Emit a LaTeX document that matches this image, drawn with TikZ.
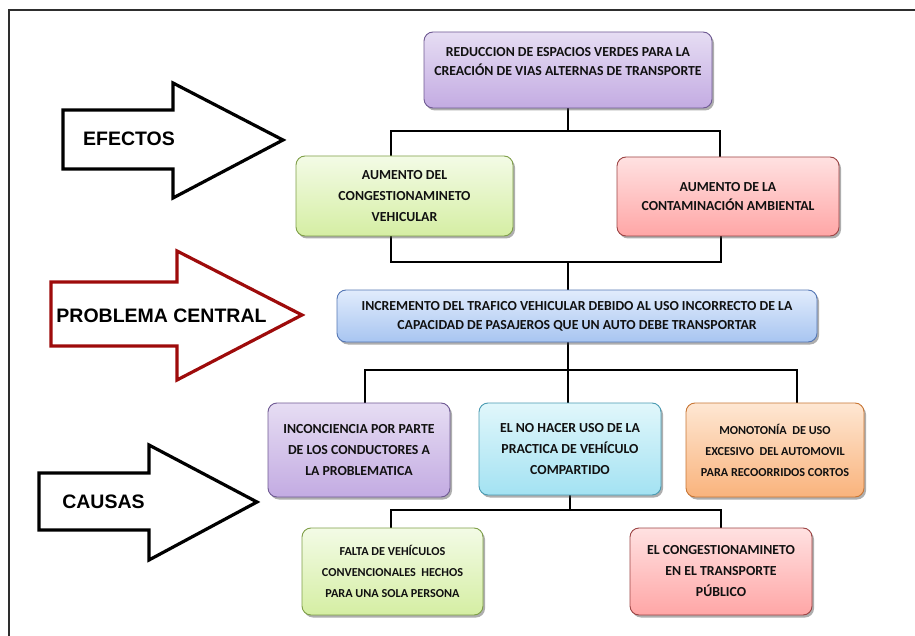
\documentclass[tikz,border=0pt]{standalone}
\usepackage{fontspec}
\setmainfont{Carlito}
\newfontfamily\arrowfont{Liberation Sans}
\usetikzlibrary{shadows,backgrounds}
\definecolor{txtc}{HTML}{111111}
\definecolor{purT}{HTML}{E6DDF3}\definecolor{purB}{HTML}{C3ABE2}\definecolor{purD}{HTML}{6F5A93}
\definecolor{grnT}{HTML}{F3FBE6}\definecolor{grnB}{HTML}{D5EEA3}\definecolor{grnD}{HTML}{7F9F48}
\definecolor{redT}{HTML}{FFE1E1}\definecolor{redB}{HTML}{FFA6A6}\definecolor{redD}{HTML}{9C4444}
\definecolor{bluT}{HTML}{E1ECFC}\definecolor{bluB}{HTML}{A8C5F1}\definecolor{bluD}{HTML}{5577B5}
\definecolor{cyaT}{HTML}{E1F7FB}\definecolor{cyaB}{HTML}{A3E2F2}\definecolor{cyaD}{HTML}{4A9BB2}
\definecolor{oraT}{HTML}{FEE7D3}\definecolor{oraB}{HTML}{F9B37C}\definecolor{oraD}{HTML}{C87634}
\definecolor{darkred}{HTML}{9E0B0B}
\definecolor{framec}{HTML}{2E2E2E}
\tikzset{
  box/.style={draw, line width=0.9pt, rounded corners=9pt,
    drop shadow={shadow xshift=2pt, shadow yshift=-2.5pt, opacity=0.45, fill=black!70},
    text=txtc, align=center, inner sep=0pt,
    font=\bfseries\fontsize{13.8}{21}\selectfont},
  boxtext/.style={text=txtc, align=center, inner sep=0pt, font=\bfseries\fontsize{13.8}{18}\selectfont},
  small/.style={font=\bfseries\fontsize{12.2}{21}\selectfont},
  two/.style={font=\bfseries\fontsize{13.8}{19}\selectfont},
  purbox/.style={box, top color=purT, bottom color=purB, draw=purD},
  grnbox/.style={box, top color=grnT, bottom color=grnB, draw=grnD},
  redbox/.style={box, top color=redT, bottom color=redB, draw=redD},
  blubox/.style={box, top color=bluT, bottom color=bluB, draw=bluD},
  cyabox/.style={box, top color=cyaT, bottom color=cyaB, draw=cyaD},
  orabox/.style={box, top color=oraT, bottom color=oraB, draw=oraD},
  conn/.style={line width=2.8pt, line join=miter, black},
  bigarrow/.style={line width=3.2pt, line join=miter, fill=white},
  arrowlabel/.style={text=black, inner sep=0pt, font=\arrowfont\bfseries\fontsize{19.5}{22}\selectfont}
}
\begin{document}
\begin{tikzpicture}[x=1pt,y=-1pt]
\useasboundingbox (0,0) rectangle (915,636);
% frame
\draw[framec, line width=2pt] (9,636) -- (9,10) -- (915,10);

% big arrows
\draw[bigarrow, draw=black] (63,110) -- (173,110) -- (173,83) -- (283,140) -- (173,198) -- (173,169) -- (63,169) -- cycle;
\node[arrowlabel] (efectos) at (129,139) {EFECTOS};
\draw[bigarrow, draw=darkred] (51,282) -- (177,282) -- (177,251) -- (302,315) -- (177,380) -- (177,346) -- (51,346) -- cycle;
\node[arrowlabel] (problema) at (161.5,316) {PROBLEMA CENTRAL};
\draw[bigarrow, draw=black] (39,473) -- (149,473) -- (149,445) -- (257,502) -- (149,560) -- (149,530) -- (39,530) -- cycle;
\node[arrowlabel] (causas) at (103.5,502) {CAUSAS};

% boxes
\node[purbox, minimum width=288pt, minimum height=76pt] (top) at (568,70) {};
\node[boxtext, two] (toptext) at (568,62) {REDUCCION DE ESPACIOS VERDES PARA LA\\CREACIÓN DE VIAS ALTERNAS DE TRANSPORTE};
\node[grnbox, minimum width=217pt, minimum height=80pt] (g2) at (404.5,196) {AUMENTO DEL\\CONGESTIONAMINETO\\VEHICULAR};
\node[redbox, two, minimum width=222pt, minimum height=79pt] (r2) at (728,196.5) {AUMENTO DE LA\\CONTAMINACIÓN AMBIENTAL};
\node[blubox, two, minimum width=480pt, minimum height=52pt] (blue) at (577,316) {INCREMENTO DEL TRAFICO VEHICULAR DEBIDO AL USO INCORRECTO DE LA\\CAPACIDAD DE PASAJEROS QUE UN AUTO DEBE TRANSPORTAR};
\node[purbox, minimum width=182pt, minimum height=94pt] (p3) at (359,450) {INCONCIENCIA POR PARTE\\DE LOS CONDUCTORES A\\LA PROBLEMATICA};
\node[cyabox, minimum width=182pt, minimum height=92pt] (c3) at (570,449) {EL NO HACER USO DE LA\\PRACTICA DE VEHÍCULO\\COMPARTIDO};
\node[orabox, small, minimum width=178pt, minimum height=94pt] (o3) at (775,450) {MONOTONÍA\ \ DE USO\\EXCESIVO\ \ DEL AUTOMOVIL\\PARA RECOORRIDOS CORTOS};
\node[grnbox, small, minimum width=181pt, minimum height=87pt] (g4) at (392.5,571.5) {FALTA DE VEHÍCULOS\\CONVENCIONALES\ \ HECHOS\\PARA UNA SOLA PERSONA};
\node[redbox, minimum width=182pt, minimum height=87pt] (r4) at (721,571.5) {EL CONGESTIONAMINETO\\EN EL TRANSPORTE\\PÚBLICO};

% connectors
\coordinate (b1l) at (391,131); \coordinate (b1r) at (720,131);
\coordinate (b2l) at (391,262); \coordinate (b2r) at (721,262); \coordinate (b2c) at (568,262);
\coordinate (b3l) at (365,370); \coordinate (b3r) at (797,370); \coordinate (b3c) at (568,370);
\coordinate (b4l) at (391,510); \coordinate (b4r) at (721,510); \coordinate (b4c) at (570,510);
\begin{scope}[on background layer]
\fill[white] (0,0) rectangle (915,636);
\draw[conn] (top.south) -- (top.south |- b1l);
\draw[conn] (b1l |- g2.north) -- (b1l) -- (b1r) -- (b1r |- r2.north);
\draw[conn] (g2.south -| b2l) -- (b2l) -- (b2r) -- (r2.south -| b2r);
\draw[conn] (b2c) -- (blue.north -| b2c);
\draw[conn] (blue.south -| b3c) -- (b3c);
\draw[conn] (b3l |- p3.north) -- (b3l) -- (b3r) -- (b3r |- o3.north);
\draw[conn] (b3c) -- (b3c |- c3.north);
\draw[conn] (c3.south -| b4c) -- (b4c);
\draw[conn] (b4l |- g4.north) -- (b4l) -- (b4r) -- (b4r |- r4.north);
\end{scope}
\end{tikzpicture}
\end{document}
